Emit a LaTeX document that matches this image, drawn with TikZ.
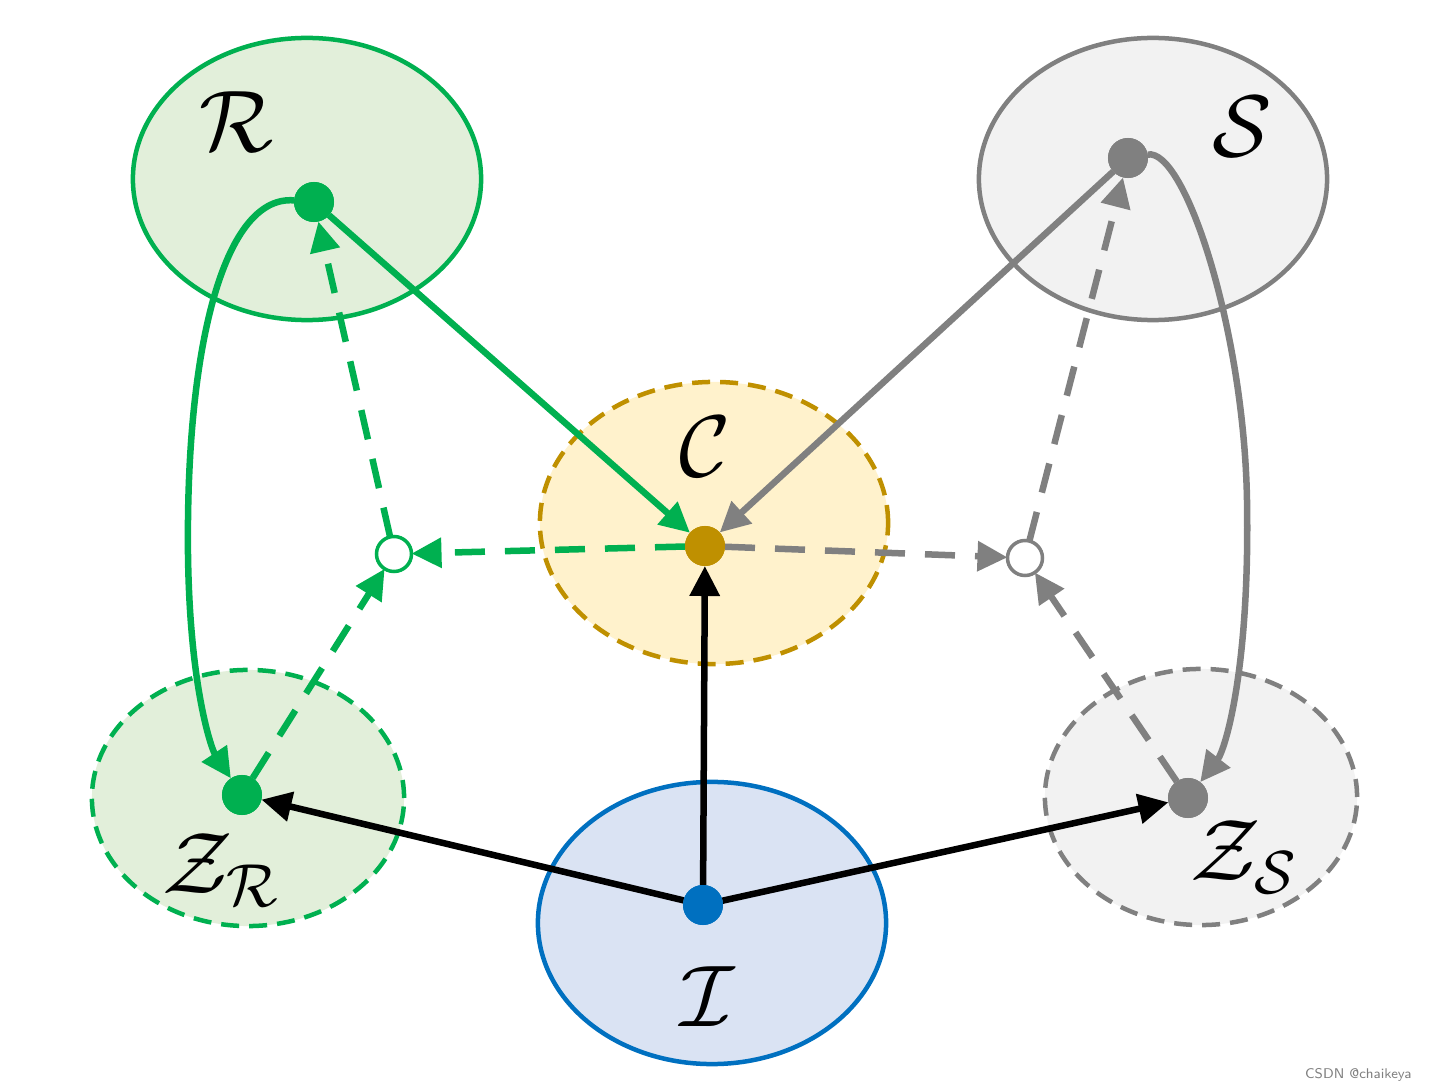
\documentclass[tikz,border=0pt]{standalone}
\usepackage{amsmath}
\usepackage{xcolor}
\usepackage{tikz}
\usetikzlibrary{arrows.meta,shapes.geometric}

\definecolor{rgreen}{HTML}{00B050}
\definecolor{rgreenfill}{HTML}{E2EFDA}
\definecolor{sgray}{HTML}{808080}
\definecolor{sgrayfill}{HTML}{F2F2F2}
\definecolor{cgold}{HTML}{BF9000}
\definecolor{cgoldfill}{HTML}{FFF2CC}
\definecolor{iblue}{HTML}{0070C0}
\definecolor{ibluefill}{HTML}{DAE3F3}

\begin{document}
\begin{tikzpicture}[x=0.01cm, y=-0.01cm,
    space/.style={ellipse, draw, line width=0.045cm, inner sep=0pt, outer sep=0pt},
    bigspace/.style={space, minimum width=3.48cm, minimum height=2.82cm},
    smallspace/.style={space, minimum width=3.12cm, minimum height=2.56cm,
      dash pattern=on 0.18cm off 0.1cm},
    dot/.style={circle, inner sep=0pt, outer sep=0pt, minimum size=0.4cm},
    hole/.style={circle, draw, fill=white, line width=0.035cm, inner sep=0pt,
      outer sep=0pt, minimum size=0.35cm},
    lbl/.style={font=\fontsize{26}{30}\selectfont, anchor=base, inner sep=0pt},
    arr/.style={-{Triangle[length=0.3cm, width=0.29cm]}, line width=0.065cm},
    darr/.style={arr, dash pattern=on 0.3cm off 0.2cm},
  ]
    \useasboundingbox (0,0) rectangle (1438,1091);

    % Spaces
    \node[bigspace, draw=rgreen, fill=rgreenfill] (R) at (307,179) {};
    \node[bigspace, draw=sgray, fill=sgrayfill] (S) at (1153,179) {};
    \node[bigspace, draw=cgold, fill=cgoldfill, dash pattern=on 0.18cm off 0.1cm] (C) at (714,523) {};
    \node[smallspace, draw=rgreen, fill=rgreenfill] (ZR) at (248,798) {};
    \node[smallspace, draw=sgray, fill=sgrayfill] (ZS) at (1201,797) {};
    \node[bigspace, draw=iblue, fill=ibluefill] (I) at (712,923) {};

    % Labels
    \node[lbl] (Rlbl) at (237,152) {$\mathcal{R}$};
    \node[lbl] (Slbl) at (1242,157) {$\mathcal{S}$};
    \node[lbl] (Clbl) at (705,477) {$\mathcal{C}$};
    \node[lbl] (ZRlbl) at (221,893) {$\mathcal{Z}_{\mathcal{R}}$};
    \node[lbl] (ZSlbl) at (1244,880) {$\mathcal{Z}_{\mathcal{S}}$};
    \node[lbl] (Ilbl) at (708,1027) {$\mathcal{I}$};

    % Points
    \node[dot, fill=rgreen] (Rd) at (314,202) {};
    \node[dot, fill=sgray] (Sd) at (1128,158) {};
    \node[dot, fill=cgold] (Cd) at (705,546) {};
    \node[dot, fill=rgreen] (ZRd) at (242,795) {};
    \node[dot, fill=sgray] (ZSd) at (1188,798) {};
    \node[dot, fill=iblue] (Id) at (703,905) {};
    \node[hole, draw=rgreen] (Rh) at (394,554) {};
    \node[hole, draw=sgray] (Sh) at (1025,558) {};
    \coordinate (rbend) at (188,520);
    \coordinate (sbend) at (1247,500);

    % Arrows
    \draw[arr] (Id) -- (Cd);
    \draw[arr] (Id) -- (ZRd);
    \draw[arr] (Id) -- (ZSd);
    \draw[arr, rgreen] (Rd) -- (Cd);
    \draw[arr, sgray] (Sd) -- (Cd);
    \draw[arr, rgreen] (Rd) .. controls (228,195) and (190,330) .. (rbend)
      .. controls (186,680) and (212,750) .. (ZRd);
    \draw[arr, sgray] (Sd) .. controls (1185,148) and (1244,330) .. (sbend)
      .. controls (1250,670) and (1225,750) .. (ZSd);
    \draw[darr, rgreen] (Cd) -- (Rh);
    \draw[darr, rgreen] (ZRd) -- (Rh);
    \draw[darr, rgreen] (Rh) -- (Rd);
    \draw[darr, sgray] (Cd) -- (Sh);
    \draw[darr, sgray] (ZSd) -- (Sh);
    \draw[darr, sgray] (Sh) -- (Sd);

    % Points on top
    \node[dot, fill=rgreen] at (Rd) {};
    \node[dot, fill=sgray] at (Sd) {};
    \node[dot, fill=cgold] at (Cd) {};
    \node[dot, fill=rgreen] at (ZRd) {};
    \node[dot, fill=sgray] at (ZSd) {};
    \node[dot, fill=iblue] at (Id) {};

    \node[font=\sffamily\fontsize{4}{5}\selectfont, text=sgray, anchor=east] (mark) at (1424,1075) {CSDN @chaikeya};
  \end{tikzpicture}
\end{document}
